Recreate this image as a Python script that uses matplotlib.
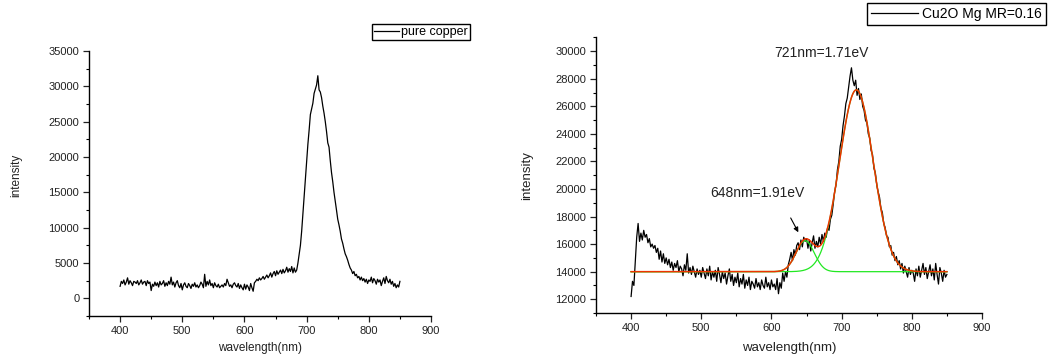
import numpy as np
import matplotlib
matplotlib.use("Agg")
import matplotlib.pyplot as plt
from matplotlib.ticker import MultipleLocator

plt.rcParams['font.family'] = ['Liberation Sans', 'DejaVu Sans']

# wavelength grid shared by both spectra (nm, 2 nm step)
wavelength = np.arange(400, 851, 2)

# pure copper PL spectrum
copper = [
    1700, 2400, 2100, 2600, 1900, 2300, 2900, 2000, 2500, 2200, 1800, 2400, 2300,
    2100, 2500, 1900, 2200, 2600, 2000, 2300, 2400, 1800, 2500, 2100, 2300,
    1100, 2000, 1700, 2300, 1800, 2200, 1600, 2400, 1900, 2100, 2500, 1700, 2200,
    1800, 2400, 2000, 3000, 1900, 2300, 1600, 2200, 2500, 1800, 1500, 2100,
    1200, 1900, 2200, 1700, 1500, 2100, 1800, 1400, 2000, 1700, 2200, 1600, 1900,
    1500, 1800, 2300, 2000, 1500, 3400, 1700, 2400, 1900, 2600, 1800, 2100,
    1500, 2200, 1800, 1600, 2000, 1500, 1700, 1900, 1600, 2100, 1800, 2700, 2200,
    1700, 1900, 1500, 2000, 2200, 1800, 1600, 2100, 1400, 1900, 1500, 1200,
    2000, 1300, 1900, 1600, 1100, 2100, 1500, 1000, 2200, 2400, 2700, 2500, 2900,
    2600, 2800, 3100, 2700, 3000, 3300, 2900, 3200, 3600, 3000, 3500, 3800,
    3200, 3900, 3400, 3700, 4000, 3500, 4100, 3600, 3900, 4400, 3700, 4200, 3800,
    4500, 3600, 4300, 3700, 4000,
    5000, 6200, 7500, 9500, 12000, 14500, 17000, 19500, 21800, 23800, 26000, 26800,
    27600, 29000, 29600, 30200, 31500,
    29500, 29200, 28400, 27200, 26200, 25000, 23600, 22000, 21400, 19500, 17800,
    16500, 15000, 13800, 12500, 11200, 10400, 9500, 8400, 7800, 7000,
    6300, 5900, 5400, 4800, 4300, 4000, 3500, 3800, 3200, 3400, 2900, 3100, 2600,
    3000, 2500, 2800, 2300, 2700, 2100, 2600,
    2400, 3000, 2200, 2800, 2500, 2000, 2700, 2300, 2600, 1800, 2400, 2900, 2100,
    3100, 2500, 2200, 2700, 2000, 2400, 1700, 2100, 1500, 1900, 1600, 2400,
]

# Cu2O Mg MR=0.16 PL spectrum
cu2o = [
    12200, 13300, 13000, 14800, 16500, 17500, 16200, 16800, 16300, 17000, 16500,
    16700, 16100, 16400, 15800, 16000, 15700, 15900, 15400, 15700, 14900, 15500,
    14700, 15300, 14600,
    15000, 14500, 14900, 14300, 14700, 14100, 14600, 14300, 14800, 14000, 14400,
    14200, 13700, 14500, 14100, 15300, 13900, 14300, 13800, 14400, 14000, 13600,
    14200, 13800, 14100,
    13600, 14300, 13900, 13500, 14200, 13700, 14400, 13400, 14000, 13600, 14100,
    13300, 14300, 13800, 13200, 14000, 13500, 13900, 13100, 13700, 14200, 13300,
    13800, 13000, 13600,
    13200, 13900, 12900, 13500, 13100, 13800, 12800, 13400, 13000, 13600, 12700,
    13300, 13100, 12800, 13500, 12900, 13200, 12700, 13400, 13000, 12800, 13600,
    12900, 13200, 12700,
    13400, 12900, 13100, 12700, 13500, 12400, 13200, 12800, 13900, 13300, 14000,
    13600, 14500, 14900, 15400, 14800, 15600, 15200, 15900, 16100, 15600, 16300,
    15800, 16500, 16200,
    16400, 15700, 16300, 15500, 16100, 16600, 15700, 16200, 15800, 16500, 16000,
    16700, 16200, 16800, 16500, 17200, 17000, 17800,
    18100, 18900, 19800, 20300, 21400, 22000, 23100, 23600, 24600, 25300, 26200,
    26600, 27400, 28200, 28800, 27900, 27500,
    27900, 26800, 27300, 26500, 26900, 26000, 25700, 25000, 24800, 24000, 23700,
    22800, 22500, 21500, 21200, 20300, 19800, 19400, 18600, 18300, 17500,
    17200, 16600, 16500, 15800, 15900, 15200, 15400, 14800, 15100, 14500, 14800,
    14200, 14600, 13900, 14400, 14000, 13600, 14300, 13800, 14100,
    13900, 13300, 14200, 13700, 14400, 13600, 14100, 14600, 13800, 14300, 13500,
    14000, 14500, 13700, 14200, 13400, 14600, 13800, 13100, 14300, 13900, 13300,
    14100, 13600, 13800,
]

# two-gaussian fit of the Cu2O spectrum
fit_baseline = 14000
fit_centers = [721, 648]       # nm
fit_amplitudes = [13200, 2250]
fit_sigmas = [24, 13]          # nm
fit_labels = ['721nm=1.71eV', '648nm=1.91eV']

fit_x = np.linspace(400, 850, 901)
components = [a * np.exp(-(fit_x - c) ** 2 / (2 * s ** 2))
              for c, a, s in zip(fit_centers, fit_amplitudes, fit_sigmas)]
fit_total = fit_baseline + sum(components)

fig = plt.figure(figsize=(10.5, 3.61), dpi=100)
ax1 = fig.add_axes([89 / 1050, 45 / 361, 342 / 1050, 265 / 361])
ax2 = fig.add_axes([596 / 1050, 48 / 361, 386 / 1050, 275.5 / 361])


def style_axes(ax, ysteps, tick_size, label_size):
    for side in ('top', 'right'):
        ax.spines[side].set_visible(False)
    for side in ('left', 'bottom'):
        ax.spines[side].set_linewidth(1.0)
    ax.set_xlim(350, 900)
    ax.xaxis.set_major_locator(MultipleLocator(100))
    ax.xaxis.set_minor_locator(MultipleLocator(50))
    ax.yaxis.set_major_locator(MultipleLocator(ysteps[0]))
    ax.yaxis.set_minor_locator(MultipleLocator(ysteps[1]))
    ax.tick_params(which='major', direction='out', length=4, width=0.9,
                   labelsize=tick_size, colors='#222222', pad=3)
    ax.tick_params(which='minor', direction='out', length=2.5, width=0.8)
    ax.set_xlabel('wavelength(nm)', fontsize=label_size, color='#222222')
    ax.set_ylabel('intensity', fontsize=label_size, color='#222222')


# left panel: pure copper
ax1.plot(wavelength, copper, color='black', lw=0.9, label='pure copper')
ax1.set_ylim(-2500, 35000)
style_axes(ax1, (5000, 2500), 8, 8.5)
ax1.xaxis.set_label_coords(0.5, -0.1)
ax1.yaxis.set_label_coords(-0.195, 0.53)
ax1.legend(loc='upper right', bbox_to_anchor=(470 / 1050, 1 - 24 / 361),
           bbox_transform=fig.transFigure, fontsize=9, frameon=True,
           fancybox=False, edgecolor='black', framealpha=1, handlelength=2.0,
           handletextpad=0.2, borderpad=0.15, borderaxespad=0)

# right panel: Cu2O with Mg, fitted peaks
ax2.plot(wavelength, cu2o, color='black', lw=0.9, label='Cu2O Mg MR=0.16')
for comp in components:
    ax2.plot(fit_x, fit_baseline + comp, color='#22e822', lw=0.9)
ax2.plot(fit_x, fit_total, color='#ee3300', lw=1.1)
ax2.set_ylim(11000, 31000)
style_axes(ax2, (2000, 1000), 8, 9.5)
ax2.xaxis.set_label_coords(0.5, -0.105)
ax2.yaxis.set_label_coords(-0.163, 0.5)
ax2.legend(loc='upper right', bbox_to_anchor=(1046 / 1050, 1 - 3 / 361),
           bbox_transform=fig.transFigure, fontsize=10, frameon=True,
           fancybox=False, edgecolor='black', framealpha=1, handlelength=3.4,
           handletextpad=0.3, borderpad=0.3, borderaxespad=0)

ax2.text(670.6, 29850, fit_labels[0], fontsize=10, color='#222222',
         ha='center', va='center')
ax2.text(579.4, 19710, fit_labels[1], fontsize=10, color='#222222',
         ha='center', va='center')
ax2.annotate('', xy=(638.3, 16860), xytext=(627.4, 17900),
             arrowprops=dict(arrowstyle='-|>', color='black', lw=0.8,
                             mutation_scale=7, shrinkA=0, shrinkB=0))

fig.savefig('out.png', dpi=100)
